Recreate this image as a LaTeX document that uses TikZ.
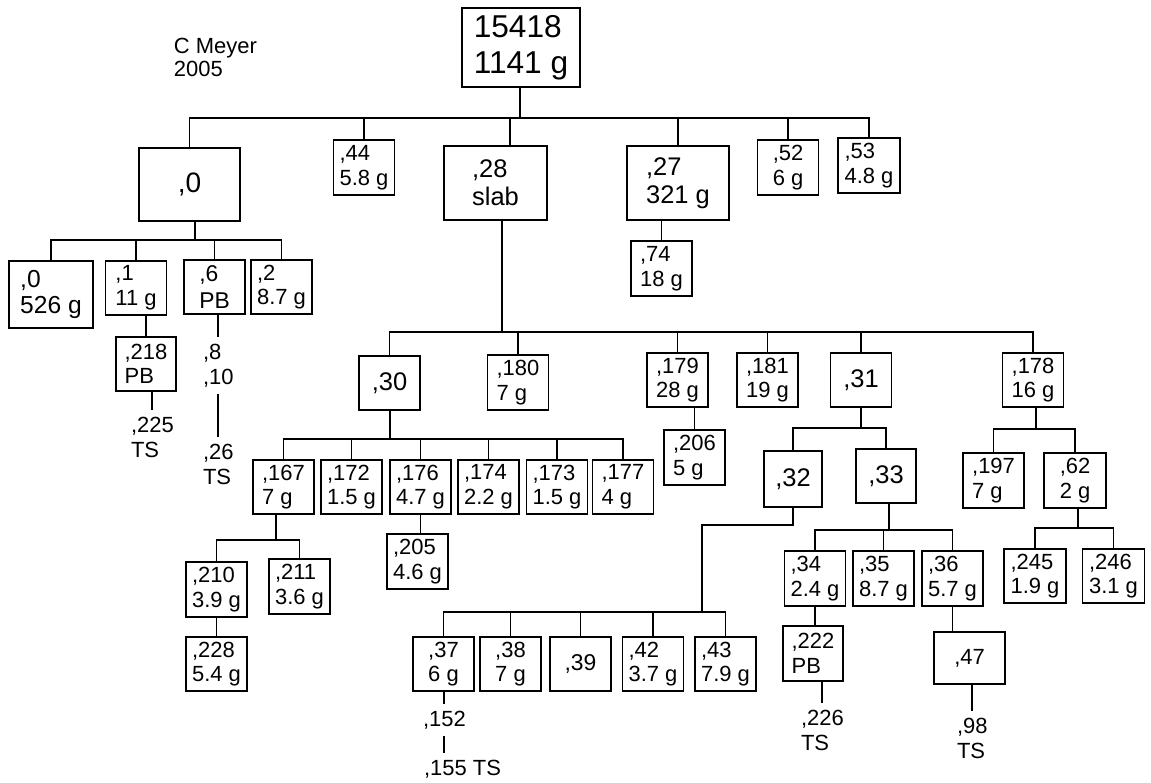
\documentclass[tikz,border=0pt]{standalone}
\usepackage{fontspec}
\setmainfont{Liberation Sans}
\usepackage{tikz}

\tikzset{
  box/.style={draw,inner sep=0pt,align=left,minimum width=1.22cm,minimum height=1.08cm,font=\fontsize{12.5}{14}\selectfont},
  bigbox/.style={box,font=\fontsize{14.5}{16}\selectfont},
  tag/.style={inner sep=0pt,outer sep=4pt,anchor=north west,align=left,font=\fontsize{12.5}{14.2}\selectfont},
}

\begin{document}
\begin{tikzpicture}[x=0.02cm,y=-0.02cm,line width=1.1pt]
\useasboundingbox (0,0) rectangle (1151,783);
% top of the tree
\node[box,minimum width=2.36cm,minimum height=1.58cm,font=\fontsize{18}{20.4}\selectfont] (root) at (521,47.5) {15418\\1141 g};
\node[anchor=north west,inner sep=0pt,align=left,font=\fontsize{12.5}{13}\selectfont] (author) at (173,37) {C Meyer\\2005};
\node[bigbox,minimum width=2.02cm,minimum height=1.46cm,font=\fontsize{16}{18}\selectfont] (big0) at (189.5,184.5) {,0};
\node[box,minimum height=1.1cm] (n44) at (364,167.5) {,44\\5.8 g};
\node[bigbox,minimum width=2.06cm,minimum height=1.48cm] (n28) at (495.5,183) {,28\\slab};
\node[bigbox,minimum width=2.04cm,minimum height=1.48cm] (n27) at (678,183) {,27\\321 g};
\node[box,minimum height=1.1cm] (n52) at (788,167.5) {,52\\6 g};
\node[box,minimum width=1.24cm,minimum height=1.1cm] (n53) at (869,165.5) {,53\\4.8 g};
% under ,0
\node[box,minimum width=1.68cm,minimum height=1.34cm,font=\fontsize{14}{15.3}\selectfont] (n0) at (51,294.5) {,0\\526 g};
\node[box] (n1) at (136,288) {,1\\11 g};
\node[box,font=\fontsize{13}{15.5}\selectfont] (n6) at (214.5,287) {,6\\PB};
\node[box] (n2) at (281.5,287) {,2\\8.7 g};
\node[box,minimum width=1.2cm] (n218) at (146,364) {,218\\PB};
\node[tag] (n225) at (124,410) {,225\\TS};
\node[tag] (n8) at (196,337) {,8\\,10};
\node[tag] (n26) at (196,437) {,26\\TS};
% under ,27
\node[box,minimum height=1.1cm] (n74) at (661.5,268.5) {,74\\18 g};
% under ,28
\node[bigbox] (n30) at (389.5,383) {,30};
\node[box,minimum height=1.1cm] (n180) at (518,382.5) {,180\\7 g};
\node[box] (n179) at (677.5,380) {,179\\28 g};
\node[box] (n181) at (767.5,380) {,181\\19 g};
\node[bigbox] (n31) at (861,380) {,31};
\node[box] (n178) at (1033,380) {,178\\16 g};
\node[box,minimum height=1.1cm] (n206) at (694.5,457.5) {,206\\5 g};
% under ,30
\node[box] (n167) at (283.5,487) {,167\\7 g};
\node[box] (n172) at (351.5,487) {,172\\1.5 g};
\node[box] (n176) at (420.5,487) {,176\\4.7 g};
\node[box] (n174) at (488.5,487) {,174\\2.2 g};
\node[box] (n173) at (557,487) {,173\\1.5 g};
\node[box] (n177) at (623,487) {,177\\4 g};
\node[box,minimum height=1.1cm] (n205) at (417.5,561.5) {,205\\4.6 g};
\node[box,minimum height=1.1cm] (n210) at (216.5,589.5) {,210\\3.9 g};
\node[box,minimum height=1.1cm] (n211) at (299.5,586.5) {,211\\3.6 g};
\node[box] (n228) at (216.5,664) {,228\\5.4 g};
% under ,31
\node[bigbox,minimum width=1.16cm,minimum height=1.12cm] (n32) at (793,479) {,32};
\node[bigbox,minimum width=1.2cm] (n33) at (886,476) {,33};
\node[box] (n37) at (443.5,664) {,37\\6 g};
\node[box] (n38) at (510.5,664) {,38\\7 g};
\node[box,font=\fontsize{13}{15}\selectfont] (n39) at (580.5,664) {,39};
\node[box] (n42) at (653,664) {,42\\3.7 g};
\node[box] (n43) at (725.5,664) {,43\\7.9 g};
\node[tag] (n152) at (416,704) {,152};
\node[tag] (n155) at (417,753) {,155 TS};
\node[box,minimum height=1.1cm] (n34) at (815,578.5) {,34\\2.4 g};
\node[box,minimum height=1.1cm] (n35) at (883.5,578.5) {,35\\8.7 g};
\node[box,minimum height=1.1cm] (n36) at (952.5,578.5) {,36\\5.7 g};
\node[box,minimum width=1.2cm,minimum height=1.1cm] (n222) at (813,653.5) {,222\\PB};
\node[tag] (n226) at (794,703) {,226\\TS};
\node[box,minimum width=1.42cm,minimum height=1.04cm] (n47) at (969.5,658) {,47};
\node[tag] (n98) at (950,711) {,98\\TS};
% under ,178
\node[box,minimum height=1.1cm] (n197) at (993.5,480.5) {,197\\7 g};
\node[box,minimum width=1.24cm,minimum height=1.1cm] (n62) at (1075,480.5) {,62\\2 g};
\node[box,minimum width=1.24cm] (n245) at (1035,576) {,245\\1.9 g};
\node[box,minimum width=1.24cm] (n246) at (1113.5,576) {,246\\3.1 g};

% connectors
\coordinate (j0) at (520,118);
\coordinate (d28) at (510,118);
\draw (root.south -| j0) -- (j0);
\draw (big0.north) |- (n53.north |- j0) -- (n53.north);
\draw (n44.north) -- (n44.north |- j0);
\draw (d28) -- (d28 |- n28.north);
\draw (n27.north) -- (n27.north |- j0);
\draw (n52.north) -- (n52.north |- j0);

\coordinate (j1) at (195,240);
\draw (big0.south -| j1) -- (j1);
\draw (n0.north) |- (n2.north |- j1) -- (n2.north);
\draw (n1.north) -- (n1.north |- j1);
\draw (n6.north) -- (n6.north |- j1);
\draw (n218.north) -- (n218.north |- n1.south);
\draw (n218.south -| n225.north) -- (n225.north);
\draw (n8.north) -- (n8.north |- n6.south);
\draw (n8.south) -- (n26.north);

\draw (n74.north) -- (n74.north |- n27.south);

\coordinate (j2) at (502,332);
\draw (n28.south -| j2) -- (j2);
\draw (n30.north) |- (n178.north |- j2) -- (n178.north);
\draw (n180.north) -- (n180.north |- j2);
\draw (n179.north) -- (n179.north |- j2);
\draw (n181.north) -- (n181.north |- j2);
\draw (n31.north) -- (n31.north |- j2);
\draw (n206.north) -- (n206.north |- n179.south);

\coordinate (j3) at (390,439);
\draw (n30.south -| j3) -- (j3);
\draw (n167.north) |- (n177.north |- j3) -- (n177.north);
\draw (n172.north) -- (n172.north |- j3);
\draw (n176.north) -- (n176.north |- j3);
\draw (n174.north) -- (n174.north |- j3);
\draw (n173.north) -- (n173.north |- j3);
\draw (n176.south) -- (n176.south |- n205.north);

\coordinate (j4) at (276,540);
\draw (n167.south -| j4) -- (j4);
\draw (n210.north) |- (n211.north |- j4) -- (n211.north);
\draw (n210.south) -- (n228.north);

\coordinate (j5) at (861,428);
\draw (n31.south -| j5) -- (j5);
\draw (n32.north) |- (n33.north |- j5) -- (n33.north);

\coordinate (k32) at (702,525);
\coordinate (j6) at (702,612);
\draw (n32.south) |- (k32) -- (j6);
\draw (n37.north) |- (n43.north |- j6) -- (n43.north);
\draw (n38.north) -- (n38.north |- j6);
\draw (n39.north) -- (n39.north |- j6);
\draw (n42.north) -- (n42.north |- j6);
\draw (n37.south -| n152.north) -- (n152.north);
\draw (n152.south) -- (n152.south |- n155.north);

\coordinate (j7) at (889,530);
\draw (n33.south -| j7) -- (j7);
\draw (n34.north) |- (n36.north |- j7) -- (n36.north);
\draw (n35.north) -- (n35.north |- j7);
\draw (n34.south) -- (n34.south |- n222.north);
\draw (n222.south -| n226.north) -- (n226.north);
\draw (n36.south) -- (n36.south |- n47.north);
\draw (n47.south -| n98.north) -- (n98.north);

\coordinate (j8) at (1036,429);
\draw (n178.south -| j8) -- (j8);
\draw (n197.north) |- (n62.north |- j8) -- (n62.north);
\coordinate (j9) at (1078,528);
\draw (n62.south -| j9) -- (j9);
\draw (n245.north) |- (n246.north |- j9) -- (n246.north);
\end{tikzpicture}
\end{document}
